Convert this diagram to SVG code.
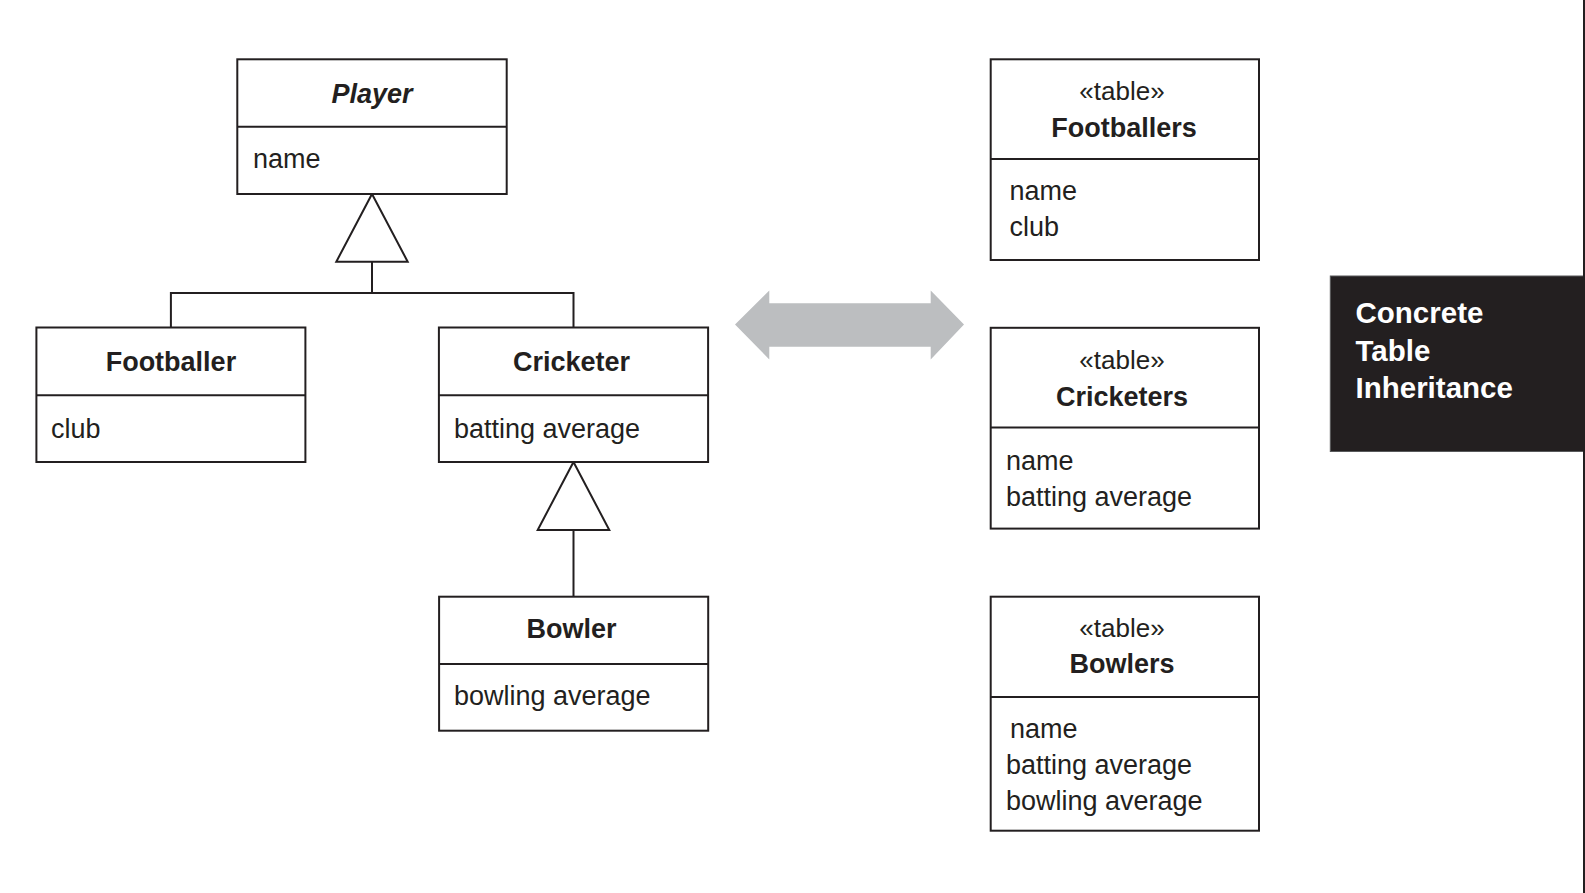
<svg xmlns="http://www.w3.org/2000/svg" width="1585" height="893" viewBox="0 0 1585 893">
<style>
.box{fill:#fff;stroke:#231f20;stroke-width:2}
.ln{stroke:#231f20;stroke-width:2;fill:none}
.tri{fill:#fff;stroke:#231f20;stroke-width:2;stroke-linejoin:miter}
text{font-family:"Liberation Sans",Arial,Helvetica,sans-serif;fill:#231f20}
.t{font-size:27px;font-weight:bold;text-anchor:middle}
.a{font-size:27px}
.s{font-size:26px;text-anchor:middle}
.w{font-size:29.5px;font-weight:bold;fill:#fff}
</style>
<rect width="1585" height="893" fill="#fff"/>
<g id="connectors">
<polyline class="ln" points="170.9,327.5 170.9,293 573.5,293 573.5,327.5"/>
<line class="ln" x1="372" y1="261.7" x2="372" y2="293"/>
<polygon class="tri" points="372,194 407.7,261.7 336.3,261.7"/>
<line class="ln" x1="573.5" y1="530" x2="573.5" y2="596.7"/>
<polygon class="tri" points="573.5,462 609.3,530 537.7,530"/>
<polygon id="double-arrow" fill="#bcbec0" points="735,324.5 769.3,290.5 769.3,303.3 930.7,303.3 930.7,290.5 964,324.5 930.7,359.5 930.7,346.7 769.3,346.7 769.3,359.5"/>
</g>
<g id="player">
<rect class="box" x="237.3" y="59.3" width="269.4" height="134.7"/>
<line class="ln" x1="237.3" y1="126.7" x2="506.7" y2="126.7"/>
<text class="t" x="372" y="102.5" font-style="italic">Player</text>
<text class="a" x="253" y="168">name</text>
</g>
<g id="footballer">
<rect class="box" x="36.4" y="327.5" width="269" height="134.5"/>
<line class="ln" x1="36.4" y1="395.2" x2="305.4" y2="395.2"/>
<text class="t" x="170.9" y="370.5">Footballer</text>
<text class="a" x="51" y="437.5">club</text>
</g>
<g id="cricketer">
<rect class="box" x="438.9" y="327.5" width="269.2" height="134.5"/>
<line class="ln" x1="438.9" y1="395.2" x2="708.1" y2="395.2"/>
<text class="t" x="571.5" y="370.5">Cricketer</text>
<text class="a" x="454" y="437.5">batting average</text>
</g>
<g id="bowler">
<rect class="box" x="439.1" y="596.7" width="269.1" height="134"/>
<line class="ln" x1="439.1" y1="664" x2="708.2" y2="664"/>
<text class="t" x="571.5" y="638">Bowler</text>
<text class="a" x="454" y="705">bowling average</text>
</g>
<g id="footballers-table">
<rect class="box" x="990.7" y="59.3" width="268.3" height="200.7"/>
<line class="ln" x1="990.7" y1="159" x2="1259" y2="159"/>
<text class="s" x="1122" y="100">«table»</text>
<text class="t" x="1124" y="137.3">Footballers</text>
<text class="a" x="1009.5" y="200">name</text>
<text class="a" x="1009.5" y="235.7">club</text>
</g>
<g id="cricketers-table">
<rect class="box" x="990.7" y="327.8" width="268.3" height="200.8"/>
<line class="ln" x1="990.7" y1="427.6" x2="1259" y2="427.6"/>
<text class="s" x="1122" y="368.5">«table»</text>
<text class="t" x="1122" y="405.5">Cricketers</text>
<text class="a" x="1006" y="470">name</text>
<text class="a" x="1006" y="505.5">batting average</text>
</g>
<g id="bowlers-table">
<rect class="box" x="990.7" y="596.7" width="268.3" height="234"/>
<line class="ln" x1="990.7" y1="697" x2="1259" y2="697"/>
<text class="s" x="1122" y="636.7">«table»</text>
<text class="t" x="1122" y="673.3">Bowlers</text>
<text class="a" x="1010" y="738.3">name</text>
<text class="a" x="1006" y="774.3">batting average</text>
<text class="a" x="1006" y="810">bowling average</text>
</g>
<g id="label">
<rect x="1330.3" y="276" width="256" height="175.5" fill="#231f20" stroke="#58595b" stroke-width="1"/>
<text class="w" x="1355.5" y="323">Concrete</text>
<text class="w" x="1355.5" y="360.7">Table</text>
<text class="w" x="1355.5" y="398.3">Inheritance</text>
</g>
<line class="ln" x1="1584" y1="0" x2="1584" y2="893"/>
</svg>
